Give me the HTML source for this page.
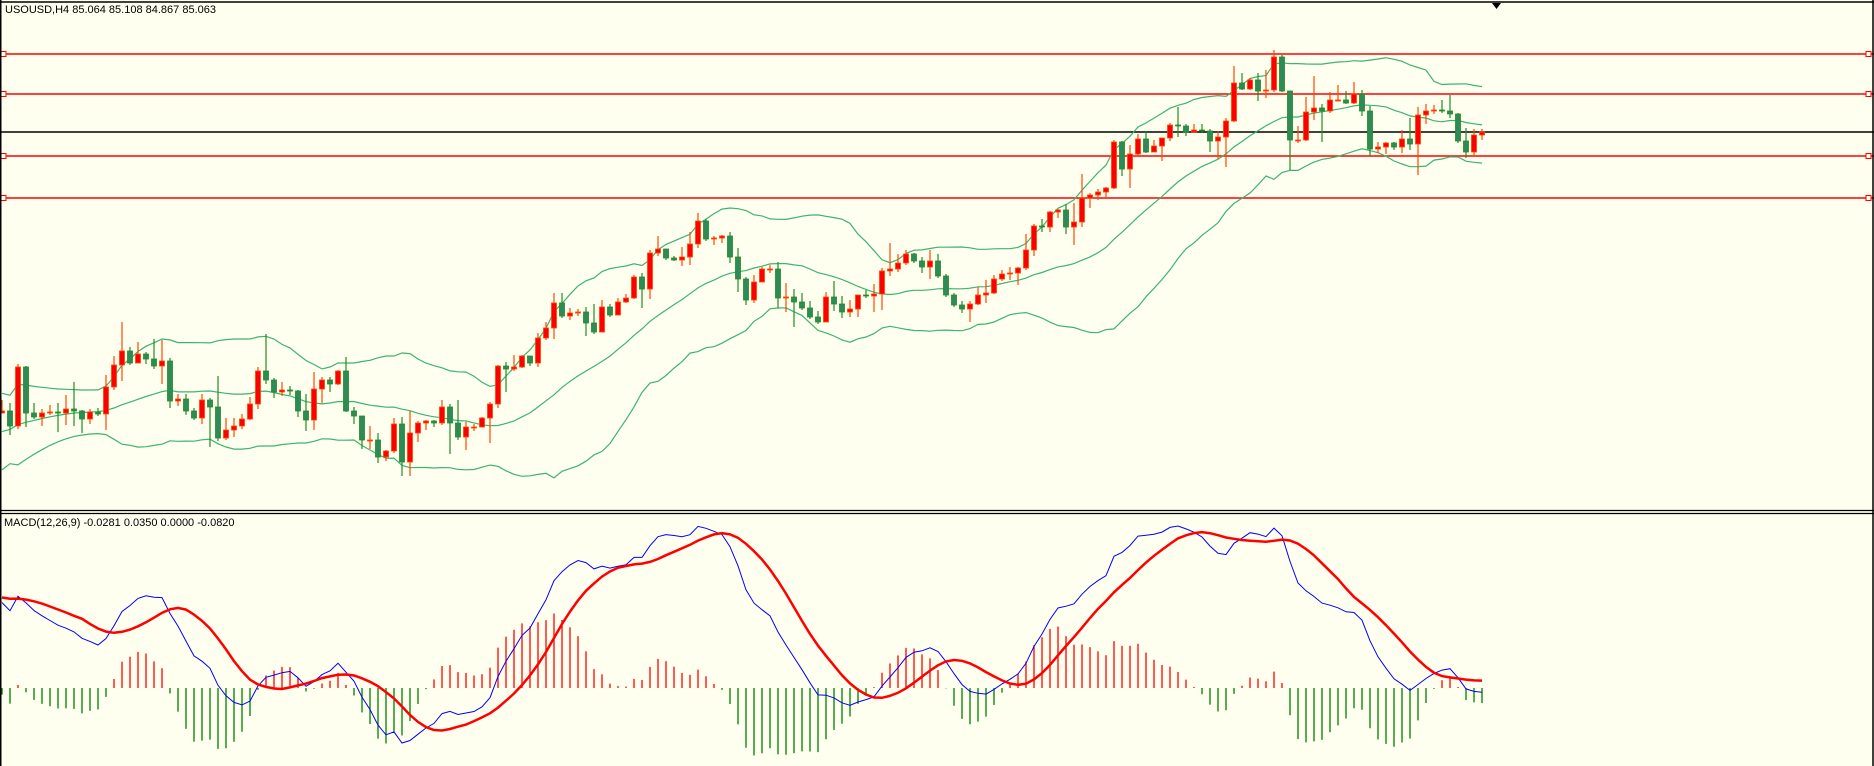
<!DOCTYPE html>
<html><head><meta charset="utf-8"><style>
html,body{margin:0;padding:0;background:#fffff0;}
svg{display:block;}
text{font-family:"Liberation Sans",sans-serif;font-size:11px;fill:#000;}
</style></head><body>
<svg id="chart" width="1874" height="766" viewBox="0 0 1874 766" xmlns="http://www.w3.org/2000/svg">
<rect x="0" y="0" width="1874" height="766" fill="#fffff0"/>
<g id="priceGrid"></g>
<g id="macdPanel"></g>
<line x1="0" y1="2" x2="1874" y2="2" stroke="#000" stroke-width="1.5"/>
<line x1="0.5" y1="0" x2="0.5" y2="766" stroke="#000" stroke-width="2"/>
<line x1="1873" y1="0" x2="1873" y2="766" stroke="#000" stroke-width="1.5"/>
<line x1="0" y1="510.5" x2="1874" y2="510.5" stroke="#000" stroke-width="1.2"/>
<line x1="0" y1="513.5" x2="1874" y2="513.5" stroke="#000" stroke-width="1.2"/>
<polygon points="1492,3 1501,3 1496.5,9" fill="#000"/>
<text x="5" y="13">USOUSD,H4  85.064 85.108 84.867 85.063</text>
<text x="4" y="526">MACD(12,26,9) -0.0281 0.0350 0.0000 -0.0820</text>
</svg>
<script>
const historyCloses=[85.00,84.98,85.02,85.00,84.97,85.01,85.03,85.00,84.98,85.02,85.00,84.96,85.00,85.03,85.01,85.04,85.08,85.12,85.17,85.22,85.26,85.31,85.36,85.40,85.45,85.50,85.54,85.59,85.64,85.68,85.72,85.77,85.81,85.85,85.88,85.82,85.86,85.90,85.84,85.87];
const closes=[85.89,85.74,86.33,85.87,85.83,85.87,85.88,85.87,85.91,85.89,85.81,85.88,85.86,86.13,86.35,86.49,86.37,86.46,86.41,86.34,86.39,85.99,86.01,85.89,85.82,86.00,85.93,85.62,85.70,85.74,85.81,85.96,86.29,86.20,86.08,86.10,86.09,85.89,85.80,86.11,86.20,86.16,86.29,85.89,85.84,85.60,85.60,85.43,85.49,85.76,85.38,85.67,85.77,85.79,85.77,85.93,85.77,85.63,85.73,85.73,85.82,85.96,86.34,86.31,86.33,86.44,86.37,86.62,86.72,86.97,86.84,86.87,86.88,86.77,86.68,86.93,86.85,86.98,87.02,87.23,87.11,87.47,87.51,87.42,87.40,87.43,87.56,87.79,87.61,87.62,87.64,87.43,87.21,87.00,87.18,87.31,87.31,87.02,87.03,86.98,86.92,86.83,86.78,87.03,86.96,86.88,86.91,87.05,87.04,87.06,87.29,87.31,87.37,87.46,87.39,87.33,87.39,87.24,87.05,86.95,86.91,86.96,87.05,87.07,87.21,87.26,87.27,87.32,87.50,87.74,87.73,87.88,87.90,87.73,87.78,88.02,88.05,88.08,88.12,88.58,88.31,88.46,88.61,88.48,88.54,88.62,88.75,88.74,88.68,88.70,88.69,88.59,88.63,88.79,89.17,89.11,89.20,89.09,89.10,89.43,89.09,88.60,88.60,88.88,88.92,88.89,89.00,89.00,88.97,89.06,88.89,88.51,88.53,88.57,88.53,88.61,88.56,88.85,88.89,88.90,88.89,88.86,88.59,88.48,88.65,88.68];
const highs=[86.00,85.97,86.36,86.34,85.97,85.91,85.95,85.97,86.05,86.18,85.90,85.91,85.92,86.25,86.44,86.78,86.53,86.58,86.48,86.61,86.60,86.42,86.06,86.06,85.92,86.06,86.02,86.24,85.82,85.82,85.86,86.03,86.33,86.66,86.22,86.18,86.14,86.10,86.06,86.28,86.23,86.23,86.30,86.43,85.93,85.79,85.74,85.67,85.50,85.82,85.83,85.89,85.79,85.80,85.80,86.00,85.96,86.00,85.78,85.76,85.83,85.98,86.35,86.38,86.45,86.45,86.44,86.67,86.78,87.07,87.07,86.92,86.91,86.93,86.96,87.00,86.96,87.02,87.06,87.25,87.27,87.50,87.64,87.51,87.44,87.53,87.68,87.87,87.81,87.64,87.65,87.68,87.52,87.23,87.25,87.33,87.35,87.38,87.17,87.11,87.07,86.99,86.89,87.08,87.19,87.04,87.00,87.05,87.10,87.16,87.32,87.57,87.46,87.50,87.47,87.43,87.50,87.46,87.26,87.07,86.99,86.99,87.13,87.20,87.25,87.30,87.33,87.33,87.66,87.76,87.81,87.89,87.91,87.96,87.97,88.26,88.07,88.11,88.13,88.60,88.59,88.55,88.66,88.69,88.60,88.62,88.77,88.93,88.76,88.76,88.76,88.71,88.69,88.82,89.34,89.27,89.22,89.27,89.30,89.50,89.45,88.91,88.74,89.03,89.24,88.96,89.08,89.15,89.09,89.18,89.10,88.94,88.58,88.58,88.58,88.70,88.82,88.93,88.96,88.95,89.00,89.05,88.87,88.72,88.71,88.71];
const lows=[85.87,85.65,85.71,85.73,85.81,85.74,85.85,85.68,85.75,85.74,85.67,85.76,85.84,85.70,86.10,86.19,86.35,86.38,86.36,86.31,86.16,85.92,85.94,85.85,85.80,85.76,85.53,85.59,85.60,85.63,85.71,85.80,85.91,86.16,86.02,86.04,86.05,85.83,85.69,85.70,85.97,86.08,86.15,85.88,85.76,85.51,85.51,85.37,85.39,85.47,85.24,85.24,85.58,85.70,85.73,85.75,85.46,85.60,85.50,85.69,85.73,85.57,85.92,86.08,86.29,86.32,86.34,86.33,86.60,86.61,86.82,86.80,86.84,86.64,86.66,86.68,86.83,86.87,86.97,87.01,86.92,87.01,87.44,87.40,87.39,87.34,87.35,87.52,87.59,87.55,87.57,87.37,87.08,86.95,86.97,87.19,87.27,86.92,86.88,86.73,86.90,86.81,86.76,86.78,86.89,86.82,86.83,86.83,87.02,86.88,86.90,87.24,87.28,87.35,87.37,87.27,87.21,87.22,87.03,86.93,86.87,86.78,86.95,86.97,87.06,87.19,87.20,87.15,87.30,87.44,87.68,87.68,87.82,87.66,87.55,87.73,87.92,88.00,88.03,88.11,88.24,88.12,88.45,88.47,88.48,88.39,88.59,88.63,88.64,88.67,88.67,88.48,88.41,88.33,88.78,89.10,89.10,88.99,89.02,89.08,89.08,88.30,88.57,88.59,88.80,88.58,88.87,88.99,88.96,88.96,88.84,88.44,88.47,88.46,88.50,88.47,88.50,88.25,88.76,88.86,88.87,88.82,88.57,88.42,88.44,88.60];
const levelPrices=[89.46,89.06,88.44,88.02];
const currentPrice=88.68;

const NS='http://www.w3.org/2000/svg';
const pricePanel=document.getElementById('priceGrid');
const macdPanel=document.getElementById('macdPanel');
function el(tag,attrs,parent){const e=document.createElementNS(NS,tag);for(const k in attrs)e.setAttribute(k,attrs[k]);parent.appendChild(e);return e;}
function xScale(i){return 2+8*i;}
function yScale(p){return (90-p)*100;}

levelPrices.forEach((p)=>{
  const y=yScale(p);
  const ln=el('line',{x1:0,y1:y,x2:1874,y2:y,stroke:'#ff0000','stroke-width':1.5},pricePanel);
  
  
  const s1=el('rect',{x:1,y:y-2.5,width:5,height:5,fill:'#fffff0',stroke:'#ff0000','stroke-width':1},pricePanel);
  
  
  const s2=el('rect',{x:1866,y:y-2.5,width:5,height:5,fill:'#fffff0',stroke:'#ff0000','stroke-width':1},pricePanel);
  
  
});
const cl=el('line',{x1:0,y1:yScale(currentPrice),x2:1874,y2:yScale(currentPrice),stroke:'#000','stroke-width':1.5},pricePanel);



const all=historyCloses.concat(closes);
const H=historyCloses.length;
const up=[],mid=[],lo=[];
for(let i=0;i<closes.length;i++){
  const j=i+H;let s=0;for(let k=j-19;k<=j;k++)s+=all[k];const m=s/20;
  let v=0;for(let k=j-19;k<=j;k++)v+=(all[k]-m)*(all[k]-m);const sd=Math.sqrt(v/20);
  mid.push(m);up.push(m+2*sd);lo.push(m-2*sd);
}
[['bollinger-upper',up],['bollinger-middle',mid],['bollinger-lower',lo]].forEach(([n,arr])=>{
  const pl=el('polyline',{points:arr.map((v,i)=>xScale(i)+','+yScale(v).toFixed(1)).join(' '),fill:'none',stroke:'#3cb371','stroke-width':1.2},pricePanel);
  
  
});

for(let i=0;i<closes.length;i++){
  const o=i===0?historyCloses[H-1]:closes[i-1];const c=closes[i];
  const bull=c>=o;const x=xScale(i);
  const g=el('g',{},pricePanel);
  
  
  el('line',{x1:x,y1:yScale(highs[i]),x2:x,y2:yScale(lows[i]),stroke:bull?'#ff4500':'#228b22','stroke-width':1.2},g);
  const top=yScale(Math.max(o,c)),bot=yScale(Math.min(o,c));
  el('rect',{x:x-2.5,y:top,width:5,height:Math.max(bot-top,1),fill:bull?'#ff0000':'#2e8b57',stroke:bull?'#ff4500':'#228b22','stroke-width':0.8},g);
}

function ema(arr,n){const k=2/(n+1);const out=[arr[0]];for(let i=1;i<arr.length;i++)out.push(arr[i]*k+out[i-1]*(1-k));return out;}
const e12=ema(all,12),e26=ema(all,26);
const macdAll=e12.map((v,i)=>v-e26[i]);
const sigAll=macdAll.map((v,i)=>{const a=Math.max(0,i-8);let s=0;for(let k=a;k<=i;k++)s+=macdAll[k];return s/(i-a+1);});
const macd=macdAll.slice(H),sig=sigAll.slice(H);
const mx=Math.max(...macd),mn=Math.min(...macd);
const B=(743-526)/(mx-mn);
function yMacd(v){return 526+(mx-v)*B;}
const zeroY=688;
for(let i=0;i<macd.length;i++){
  const h=(macd[i]-sig[i])*B*1.3;
  const b=el('line',{x1:xScale(i),y1:zeroY,x2:xScale(i),y2:zeroY-h,stroke:h>=0?'#ff0000':'#008000','stroke-width':1.3},macdPanel);
  
  
}
const bl=el('polyline',{points:macd.map((v,i)=>xScale(i)+','+yMacd(v).toFixed(1)).join(' '),fill:'none',stroke:'#0000ff','stroke-width':1},macdPanel);


const rl=el('polyline',{points:sig.map((v,i)=>xScale(i)+','+yMacd(v).toFixed(1)).join(' '),fill:'none',stroke:'#ff0000','stroke-width':2.5},macdPanel);


</script>
</body></html>
